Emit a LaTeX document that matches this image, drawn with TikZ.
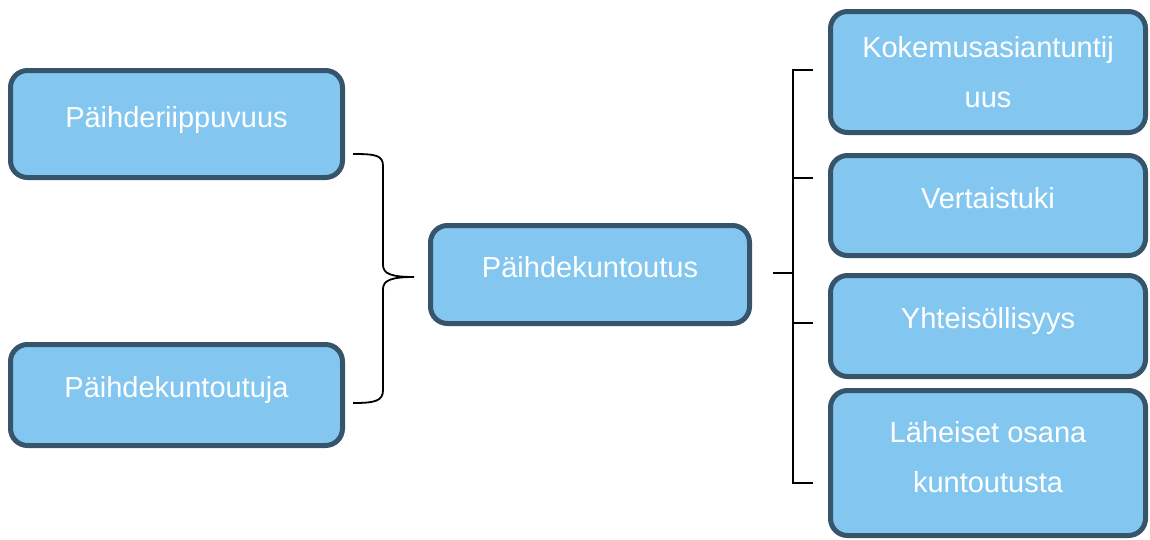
\documentclass[tikz,border=0pt]{standalone}
\usepackage{fontspec}
\setmainfont{Liberation Sans}
\definecolor{boxfill}{HTML}{83C7F0}
\definecolor{boxline}{HTML}{36546A}
\begin{document}
\begin{tikzpicture}[x=1pt,y=-1pt,
  box/.style={draw=boxline, fill=boxfill, line width=5pt, rounded corners=17pt, inner sep=0pt},
  lbl/.style={text=white, anchor=base, align=center, inner sep=0pt, font=\fontsize{29}{50}\selectfont},
  conn/.style={draw=black, line width=1.8pt}]
\useasboundingbox (0,0) rectangle (1150,539);
% boxes
\node[box, minimum width=332pt, minimum height=107pt] (b1) at (176.5,124) {};
\node[box, minimum width=332pt, minimum height=101pt] (b2) at (176.5,395) {};
\node[box, minimum width=319pt, minimum height=98pt] (c) at (590,274.5) {};
\node[box, minimum width=315pt, minimum height=121pt] (r1) at (988,72) {};
\node[box, minimum width=315pt, minimum height=100pt] (r2) at (988,205.5) {};
\node[box, minimum width=315pt, minimum height=101pt] (r3) at (988,326) {};
\node[box, minimum width=315pt, minimum height=145pt] (r4) at (988,463) {};
% labels (base anchor = baseline of the last line)
\node[lbl] (t1) at (176.5,127) {Päihderiippuvuus};
\node[lbl] (t2) at (176.5,397) {Päihdekuntoutuja};
\node[lbl] (tc) at (590,277) {Päihdekuntoutus};
\node[lbl] (tr1) at (988,107) {Kokemusasiantuntij\\uus};
\node[lbl] (tr2) at (988,208) {Vertaistuki};
\node[lbl] (tr3) at (988,328) {Yhteisöllisyys};
\node[lbl] (tr4) at (988,492) {Läheiset osana\\kuntoutusta};
% left brace
\coordinate (bt) at (353,154);
\coordinate (bb) at (353,403);
\coordinate (bm) at (414,277);
\draw[conn] (bt) .. controls (375,154) and (383,155) .. (383,166) -- (383,265)
  .. controls (383,274) and (392,277) .. (bm)
  .. controls (392,277) and (383,280) .. (383,289) -- (383,390)
  .. controls (383,401) and (375,403) .. (bb);
% right bracket
\coordinate (vtop) at (793,70);
\coordinate (vbot) at (793,483);
\coordinate (vmid) at (793,273);
\coordinate (cin) at (773,273);
\coordinate (k1) at (813,70);
\coordinate (k2) at (813,178);
\coordinate (k3) at (813,323);
\coordinate (k4) at (813,483);
\draw[conn] (k1) -- (vtop) -- (vbot) -- (k4);
\draw[conn] (cin) -- (vmid);
\draw[conn] (793,178) -- (k2);
\draw[conn] (793,323) -- (k3);
\end{tikzpicture}
\end{document}
